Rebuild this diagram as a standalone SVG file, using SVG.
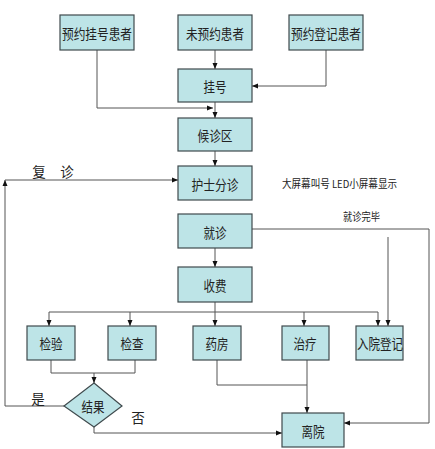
<svg xmlns="http://www.w3.org/2000/svg" width="435" height="449" viewBox="0 0 435 449">
<style>
.box{fill:#BDE4E7;stroke:#3f4a4d;stroke-width:1.2}
.t{font-family:"Noto Sans CJK SC","Liberation Sans",sans-serif;font-size:13.5px;fill:#222;text-anchor:middle;dominant-baseline:central}
.s{font-family:"Noto Sans CJK SC","Liberation Sans",sans-serif;font-size:11px;fill:#222;dominant-baseline:central}
.c{fill:none;stroke:#555;stroke-width:1}
</style>
<defs>
<marker id="a" viewBox="0 0 6 6" refX="6" refY="3" markerWidth="6" markerHeight="6" orient="auto" markerUnits="userSpaceOnUse">
<path d="M0,0.5 L6,3 L0,5.5 z" fill="#111"/>
</marker>
</defs>
<rect width="435" height="449" fill="#fff"/>
<g id="connectors">
<path class="c" d="M215,50 V69" marker-end="url(#a)"/>
<path class="c" d="M326,50 V86 H252" marker-end="url(#a)"/>
<path class="c" d="M97,50 V108 H213" marker-end="url(#a)"/>
<path class="c" d="M215,102 V118" marker-end="url(#a)"/>
<path class="c" d="M215,151 V166" marker-end="url(#a)"/>
<path class="c" d="M64,406 H5 V180" marker-end="url(#a)"/>
<path class="c" d="M5,180 H178" marker-end="url(#a)"/>
<path class="c" d="M215,248 V267" marker-end="url(#a)"/>
<path class="c" d="M215,302 V326" marker-end="url(#a)"/>
<path class="c" d="M49,312 H378"/>
<path class="c" d="M49,312 V326" marker-end="url(#a)"/>
<path class="c" d="M130,312 V326" marker-end="url(#a)"/>
<path class="c" d="M304,312 V326" marker-end="url(#a)"/>
<path class="c" d="M378,312 V326" marker-end="url(#a)"/>
<path class="c" d="M388,237 V326" marker-end="url(#a)"/>
<path class="c" d="M252,229 H429 V423 H344" marker-end="url(#a)"/>
<path class="c" d="M51,360 V373 H135 V360"/>
<path class="c" d="M94,373 V383" marker-end="url(#a)"/>
<path class="c" d="M94,427 V433 H282" marker-end="url(#a)"/>
<path class="c" d="M217,360 V385 H307"/>
<path class="c" d="M307,360 V413" marker-end="url(#a)"/>
</g>
<g id="n1"><rect class="box" x="60" y="15" width="74" height="35"/><text class="t" x="97" y="33" textLength="70" lengthAdjust="spacingAndGlyphs">预约挂号患者</text></g>
<g id="n2"><rect class="box" x="178" y="15" width="74" height="35"/><text class="t" x="215" y="33" textLength="58" lengthAdjust="spacingAndGlyphs">未预约患者</text></g>
<g id="n3"><rect class="box" x="289" y="15" width="74" height="35"/><text class="t" x="326" y="33" textLength="70" lengthAdjust="spacingAndGlyphs">预约登记患者</text></g>
<g id="n4"><rect class="box" x="178" y="69" width="74" height="33"/><text class="t" x="215" y="86" textLength="23" lengthAdjust="spacingAndGlyphs">挂号</text></g>
<g id="n5"><rect class="box" x="178" y="118" width="74" height="33"/><text class="t" x="215" y="135" textLength="35" lengthAdjust="spacingAndGlyphs">候诊区</text></g>
<g id="n6"><rect class="box" x="178" y="166" width="74" height="34"/><text class="t" x="215" y="184" textLength="47" lengthAdjust="spacingAndGlyphs">护士分诊</text></g>
<g id="n7"><rect class="box" x="178" y="214" width="74" height="34"/><text class="t" x="215" y="232" textLength="23" lengthAdjust="spacingAndGlyphs">就诊</text></g>
<g id="n8"><rect class="box" x="178" y="267" width="74" height="35"/><text class="t" x="215" y="285" textLength="23" lengthAdjust="spacingAndGlyphs">收费</text></g>
<g id="n9"><rect class="box" x="27" y="326" width="48" height="34"/><text class="t" x="51" y="343" textLength="23" lengthAdjust="spacingAndGlyphs">检验</text></g>
<g id="n10"><rect class="box" x="108" y="326" width="48" height="34"/><text class="t" x="132" y="343" textLength="23" lengthAdjust="spacingAndGlyphs">检查</text></g>
<g id="n11"><rect class="box" x="193" y="326" width="48" height="34"/><text class="t" x="217" y="343" textLength="23" lengthAdjust="spacingAndGlyphs">药房</text></g>
<g id="n12"><rect class="box" x="282" y="326" width="47" height="34"/><text class="t" x="305" y="343" textLength="23" lengthAdjust="spacingAndGlyphs">治疗</text></g>
<g id="n13"><rect class="box" x="356" y="326" width="47" height="34"/><text class="t" x="380" y="343" textLength="46" lengthAdjust="spacingAndGlyphs">入院登记</text></g>
<g id="n14"><path class="box" d="M94,383 L122,406 L94,427 L64,406 z"/><text class="t" x="93" y="406" textLength="23" lengthAdjust="spacingAndGlyphs">结果</text></g>
<g id="n15"><rect class="box" x="282" y="413" width="62" height="34"/><text class="t" x="313" y="431" textLength="23" lengthAdjust="spacingAndGlyphs">离院</text></g>
<g id="labels">
<text class="t" x="39" y="171">复</text>
<text class="t" x="67" y="171">诊</text>
<text class="s" x="282" y="183" textLength="115" lengthAdjust="spacingAndGlyphs">大屏幕叫号  LED小屏幕显示</text>
<text class="s" x="343" y="216" textLength="37" lengthAdjust="spacingAndGlyphs">就诊完毕</text>
<text class="t" x="38" y="398">是</text>
<text class="t" x="138" y="417">否</text>
</g>
</svg>
